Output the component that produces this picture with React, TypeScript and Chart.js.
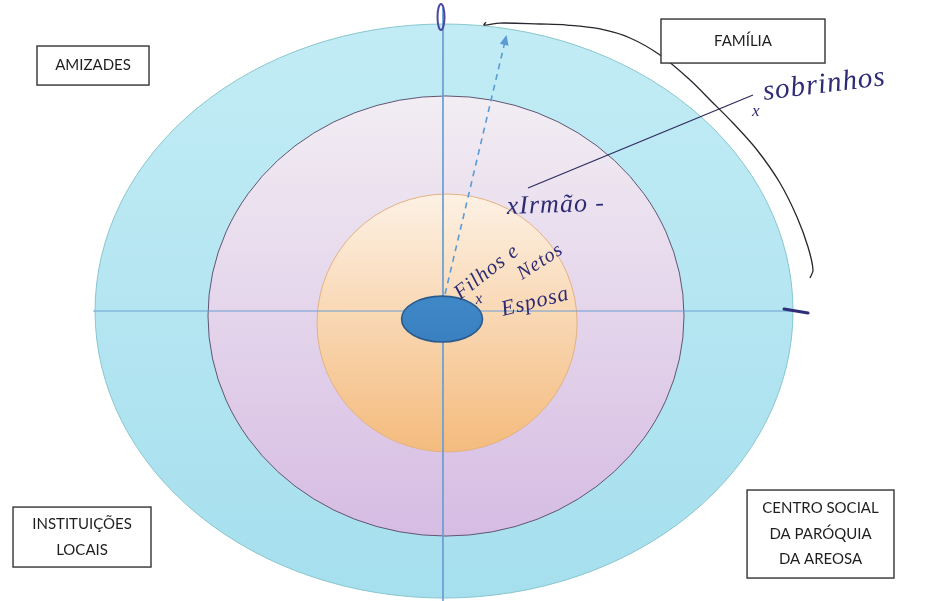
import React, { useEffect, useRef } from "react";
import { Chart, registerables } from "chart.js";

Chart.register(...registerables);

// ---------- DATA (value space: ring units, centre of the map = 0,0) ----------
const sectorLabels: string[][] = [
  ["AMIZADES"],
  ["FAMÍLIA"],
  ["INSTITUIÇÕES", "LOCAIS"],
  ["CENTRO SOCIAL", "DA PARÓQUIA", "DA AREOSA"],
];
// box corners of each sector label (value space)
const sectorX0 = [-3.499, 1.865, -3.705, 2.605];
const sectorX1 = [-2.536, 3.275, -2.519, 3.868];
const sectorY0 = [2.770, 3.052, -2.049, -1.871];
const sectorY1 = [2.362, 2.592, -2.676, -2.791];

// rings: outer (ocasional), middle (social), inner (íntimas), centre (pessoa)
const ringNames = ["Relações ocasionais", "Relações sociais", "Relações íntimas", "Pessoa"];
const ringCenterX = [0, 0.017, 0.026, -0.017];
const ringCenterY = [0, -0.052, -0.125, -0.084];
const ringRadiusX = [3.0, 2.046, 1.118, 0.348];
const ringRadiusY = [3.0, 2.3, 1.348, 0.24];

// quadrant axes
const axisHX = [-3.017, 3.06];
const axisHY = [0, 0];
const axisVX = [-0.009, -0.009];
const axisVY = [3.167, -3.03];

// hand-drawn strokes
const arrowX = [0.009, 0.533];
const arrowY = [0.178, 2.864];
const linkX = [0.722, 2.656];
const linkY = [1.286, 2.258];
const bracketX = [0.361, 0.344, 0.481, 0.825, 1.057, 1.341, 1.599, 1.857, 2.115, 2.287, 2.484, 2.691, 2.888, 3.034, 3.129, 3.172, 3.146];
const bracketY = [3.021, 2.989, 3.010, 3.000, 2.989, 2.948, 2.854, 2.676, 2.415, 2.206, 1.965, 1.683, 1.338, 0.983, 0.669, 0.429, 0.345];

// pen marks on the axes
const topMarkX = -0.026;
const topMarkY = 3.073;
const topMarkRX = 0.03;
const topMarkRY = 0.136;
const sideMarkX = [2.923, 3.129];
const sideMarkY = [0.021, -0.021];

// handwritten notes
const handNotes = ["sobrinhos", "x", "xIrmão -", "Filhos e", "Netos", "x", "Esposa"];
const handX = [2.75, 2.648, 0.542, 0.14, 0.671, 0.275, 0.507];
const handY = [2.206, 2.04, 1.014, 0.115, 0.324, 0.073, -0.052];
const handAngle = [-7, 0, -2, -38, -33, -10, -14];
const handSize = [29, 17, 26, 21, 20, 16, 22];

// value window
const X_MIN = -3.817;
const X_MAX = 4.212;
const Y_MIN = -3.031;
const Y_MAX = 3.251;

const toPts = (xs: number[], ys: number[]) => xs.map((v, i) => ({ x: v, y: ys[i] }));

const ringFill = [
  ["#c2ecf5", "#a6dfee"],
  ["#f2edf3", "#d6bce3"],
  ["#fdf1e4", "#f4bb7d"],
  ["#3f88c8", "#3a80c0"],
];
const ringStroke = ["#88c6cd", "#5f5672", "#e3b283", "#2b5a8c"];
const ringStrokeW = [1, 1, 1, 1.6];
const H_AXIS_INDEX = 3;

function drawRing(chart: any, i: number) {
  const { ctx } = chart;
  const xs = chart.scales.x;
  const ys = chart.scales.y;
  const cx = xs.getPixelForValue(ringCenterX[i]);
  const cy = ys.getPixelForValue(ringCenterY[i]);
  const rx = Math.abs(xs.getPixelForValue(ringCenterX[i] + ringRadiusX[i]) - cx);
  const ry = Math.abs(ys.getPixelForValue(ringCenterY[i] + ringRadiusY[i]) - cy);
  ctx.save();
  const g = ctx.createLinearGradient(0, cy - ry, 0, cy + ry);
  g.addColorStop(0, ringFill[i][0]);
  g.addColorStop(1, ringFill[i][1]);
  ctx.beginPath();
  ctx.ellipse(cx, cy, rx, ry, 0, 0, Math.PI * 2);
  ctx.fillStyle = g;
  ctx.fill();
  ctx.lineWidth = ringStrokeW[i];
  ctx.strokeStyle = ringStroke[i];
  ctx.stroke();
  ctx.restore();
}

const mapPlugin = {
  id: "networkMap",
  beforeDatasetsDraw(chart: any) {
    for (let i = 0; i < 3; i++) drawRing(chart, i);
  },
  afterDatasetDraw(chart: any, args: any) {
    if (args.index === H_AXIS_INDEX) drawRing(chart, 3);
  },
  afterDatasetsDraw(chart: any) {
    const { ctx } = chart;
    const xs = chart.scales.x;
    const ys = chart.scales.y;
    const px = (v: number) => xs.getPixelForValue(v);
    const py = (v: number) => ys.getPixelForValue(v);

    // arrow head of dashed arrow
    const x0 = px(arrowX[0]), y0 = py(arrowY[0]);
    const x1 = px(arrowX[1]), y1 = py(arrowY[1]);
    const ang = Math.atan2(y1 - y0, x1 - x0);
    ctx.save();
    ctx.translate(x1, y1);
    ctx.rotate(ang);
    ctx.beginPath();
    ctx.moveTo(2, 0);
    ctx.lineTo(-8, -4.5);
    ctx.lineTo(-8, 4.5);
    ctx.closePath();
    ctx.fillStyle = "#5b9bd5";
    ctx.fill();
    ctx.restore();

    // pen marks
    ctx.save();
    ctx.strokeStyle = "#4a48a0";
    ctx.lineWidth = 2;
    ctx.beginPath();
    const tcx = px(topMarkX), tcy = py(topMarkY);
    ctx.ellipse(tcx, tcy, Math.abs(px(topMarkX + topMarkRX) - tcx), Math.abs(py(topMarkY + topMarkRY) - tcy), 0, 0, Math.PI * 2);
    ctx.stroke();
    ctx.strokeStyle = "#2e2f78";
    ctx.lineWidth = 3;
    ctx.lineCap = "round";
    ctx.beginPath();
    ctx.moveTo(px(sideMarkX[0]), py(sideMarkY[0]));
    ctx.lineTo(px(sideMarkX[1]), py(sideMarkY[1]));
    ctx.stroke();
    ctx.restore();

    // sector boxes
    ctx.save();
    ctx.font = '15px Lato, "Liberation Sans", sans-serif';
    ctx.textAlign = "center";
    ctx.textBaseline = "middle";
    sectorLabels.forEach((lines, i) => {
      const bx = px(sectorX0[i]);
      const by = py(sectorY0[i]);
      const bw = px(sectorX1[i]) - bx;
      const bh = py(sectorY1[i]) - by;
      ctx.fillStyle = "#ffffff";
      ctx.fillRect(bx, by, bw, bh);
      ctx.strokeStyle = "#333333";
      ctx.lineWidth = 1.4;
      ctx.strokeRect(bx, by, bw, bh);
      ctx.fillStyle = "#1e1e1e";
      const lh = 25.5;
      const mid = by + bh / 2;
      lines.forEach((t, k) => {
        ctx.fillText(t, bx + bw / 2, mid + (k - (lines.length - 1) / 2) * lh);
      });
    });
    ctx.restore();

    // handwriting
    handNotes.forEach((t, i) => {
      ctx.save();
      ctx.translate(px(handX[i]), py(handY[i]));
      ctx.rotate((handAngle[i] * Math.PI) / 180);
      ctx.font = `italic ${handSize[i]}px "Liberation Serif", "DejaVu Serif", serif`;
      (ctx as any).letterSpacing = "1px";
      ctx.fillStyle = "#2d2b73";
      ctx.textAlign = "left";
      ctx.textBaseline = "alphabetic";
      ctx.fillText(t, 0, 0);
      ctx.restore();
    });
  },
};

export default function App() {
  const ref = useRef<HTMLCanvasElement | null>(null);

  useEffect(() => {
    if (!ref.current) return;
    const lineDs = (label: string, data: any[], extra: any) => ({
      label,
      data,
      showLine: true,
      pointRadius: 0,
      pointHoverRadius: 0,
      fill: false,
      ...extra,
    });
    const chart = new Chart(ref.current, {
      type: "scatter",
      data: {
        datasets: [
          lineDs("sobrinhos", toPts(linkX, linkY), { borderColor: "#2f2c5e", borderWidth: 1.3, order: 1 }),
          lineDs("seta", toPts(arrowX, arrowY), { borderColor: "#5b9bd5", borderWidth: 1.6, borderDash: [6, 5], order: 1 }),
          lineDs("família", toPts(bracketX, bracketY), { borderColor: "#26262e", borderWidth: 1.3, tension: 0.35, order: 1 }),
          lineDs("eixo horizontal", toPts(axisHX, axisHY), { borderColor: "#6d9fd2", borderWidth: 1, order: 5 }),
          lineDs("eixo vertical", toPts(axisVX, axisVY), { borderColor: "#6d9fd2", borderWidth: 1, order: 5 }),
        ],
      },
      options: {
        responsive: false,
        animation: false,
        devicePixelRatio: 1,
        layout: { padding: 0 },
        events: [],
        plugins: {
          legend: { display: false },
          tooltip: { enabled: false },
          title: { display: false },
        },
        scales: {
          x: { type: "linear", min: X_MIN, max: X_MAX, display: false },
          y: { type: "linear", min: Y_MIN, max: Y_MAX, display: false },
        },
      },
      plugins: [mapPlugin],
    } as any);
    return () => chart.destroy();
  }, []);

  return (
    <div
      style={{ position: "fixed", left: 0, top: 0, width: 934, height: 601, background: "#ffffff" }}
      aria-label={ringNames.join(", ")}
    >
      <canvas ref={ref} width={934} height={601} style={{ display: "block" }} />
    </div>
  );
}
